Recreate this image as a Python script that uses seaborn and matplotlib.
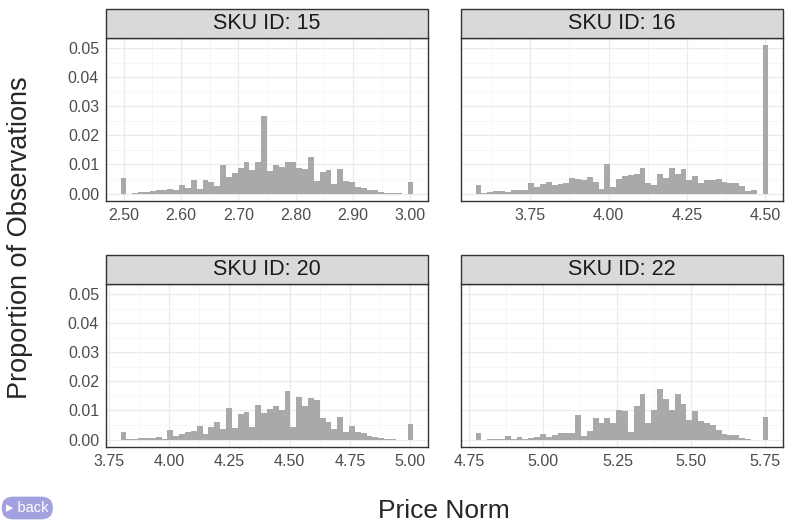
import numpy as np
import pandas as pd
import matplotlib.pyplot as plt
import seaborn as sns
from matplotlib.patches import Rectangle
from matplotlib.ticker import MultipleLocator

# Data (50 bins per SKU, proportion of observations)
sku_ids = [15, 16, 20, 22]
price_min = [2.500, 3.585, 3.812, 4.781]
price_max = [3.000, 4.500, 5.000, 5.750]
x_ticks = [
    [2.50, 2.60, 2.70, 2.80, 2.90, 3.00],
    [3.75, 4.00, 4.25, 4.50],
    [3.75, 4.00, 4.25, 4.50, 4.75, 5.00],
    [4.75, 5.00, 5.25, 5.50, 5.75],
]
y_ticks = [0.00, 0.01, 0.02, 0.03, 0.04, 0.05]

prop_15 = [0.0052, 0.0000, 0.0002, 0.0004, 0.0006, 0.0008, 0.0012, 0.0014, 0.0017, 0.0011,
           0.0028, 0.0020, 0.0047, 0.0015, 0.0045, 0.0041, 0.0025, 0.0098, 0.0057, 0.0072,
           0.0089, 0.0108, 0.0082, 0.0110, 0.0265, 0.0077, 0.0097, 0.0093, 0.0109, 0.0108,
           0.0089, 0.0083, 0.0126, 0.0042, 0.0073, 0.0082, 0.0033, 0.0085, 0.0042, 0.0040,
           0.0024, 0.0018, 0.0011, 0.0011, 0.0006, 0.0003, 0.0002, 0.0001, 0.0000, 0.0040]
prop_16 = [0.0028, 0.0003, 0.0006, 0.0008, 0.0010, 0.0005, 0.0013, 0.0013, 0.0013, 0.0037,
           0.0021, 0.0032, 0.0040, 0.0030, 0.0034, 0.0037, 0.0053, 0.0051, 0.0046, 0.0056,
           0.0039, 0.0016, 0.0103, 0.0022, 0.0050, 0.0062, 0.0064, 0.0067, 0.0089, 0.0038,
           0.0031, 0.0069, 0.0053, 0.0087, 0.0068, 0.0085, 0.0048, 0.0060, 0.0036, 0.0046,
           0.0045, 0.0049, 0.0039, 0.0036, 0.0036, 0.0026, 0.0009, 0.0014, 0.0000, 0.0509]
prop_20 = [0.0026, 0.0003, 0.0003, 0.0007, 0.0007, 0.0007, 0.0008, 0.0002, 0.0032, 0.0011,
           0.0019, 0.0025, 0.0028, 0.0047, 0.0020, 0.0044, 0.0060, 0.0036, 0.0108, 0.0040,
           0.0088, 0.0095, 0.0043, 0.0118, 0.0092, 0.0106, 0.0116, 0.0100, 0.0167, 0.0042,
           0.0148, 0.0116, 0.0143, 0.0136, 0.0075, 0.0061, 0.0035, 0.0076, 0.0026, 0.0045,
           0.0025, 0.0023, 0.0011, 0.0010, 0.0006, 0.0002, 0.0001, 0.0000, 0.0000, 0.0055]
prop_22 = [0.0024, 0.0000, 0.0003, 0.0001, 0.0002, 0.0011, 0.0001, 0.0009, 0.0002, 0.0005,
           0.0010, 0.0018, 0.0009, 0.0015, 0.0024, 0.0024, 0.0024, 0.0086, 0.0013, 0.0028,
           0.0075, 0.0058, 0.0075, 0.0056, 0.0102, 0.0099, 0.0027, 0.0117, 0.0158, 0.0058,
           0.0103, 0.0175, 0.0141, 0.0100, 0.0156, 0.0123, 0.0067, 0.0097, 0.0064, 0.0057,
           0.0049, 0.0034, 0.0020, 0.0016, 0.0015, 0.0005, 0.0001, 0.0000, 0.0000, 0.0077]
props = [prop_15, prop_16, prop_20, prop_22]
N_BINS = 50

sns.set_style("white")
plt.rcParams['font.family'] = ['Liberation Sans', 'DejaVu Sans']

fig = plt.figure(figsize=(7.85, 5.23), dpi=100)

# panel positions in pixels (left, top, width, height)
W, H = 785, 523
panels = [(106, 38, 322, 163), (461, 38, 322, 163),
          (106, 284, 322, 163), (461, 284, 322, 163)]
strip_px = 29

ymax_all = max(max(p) for p in props)
ylim = (-0.05 * ymax_all, 1.05 * ymax_all)

for i, sku in enumerate(sku_ids):
    l, t, w, h = panels[i]
    ax = fig.add_axes([l / W, 1 - (t + h) / H, w / W, h / H])

    lo, hi = price_min[i], price_max[i]
    bw = (hi - lo) / (N_BINS - 1)
    df = pd.DataFrame({'price': np.linspace(lo, hi, N_BINS), 'prop': props[i]})
    sns.histplot(data=df, x='price', weights='prop', bins=N_BINS,
                 binrange=(lo - bw / 2, hi + bw / 2), stat='count',
                 color='#A9A9A9', alpha=1, linewidth=0, ax=ax, zorder=2)

    e_lo, e_hi = lo - bw / 2, hi + bw / 2
    pad = 0.05 * (e_hi - e_lo)
    ax.set_xlim(e_lo - pad, e_hi + pad)
    ax.set_ylim(*ylim)

    ticks = x_ticks[i]
    step = ticks[1] - ticks[0]
    ax.set_xticks(ticks)
    ax.set_xticklabels([f"{v:.2f}" for v in ticks])
    ax.xaxis.set_minor_locator(MultipleLocator(step / 2))
    ax.set_yticks(y_ticks)
    ax.yaxis.set_minor_locator(MultipleLocator(0.005))
    if i % 2 == 0:
        ax.set_yticklabels([f"{v:.2f}" for v in y_ticks])
    else:
        ax.set_yticklabels([])
        ax.tick_params(axis='y', which='both', length=0)

    ax.grid(which='major', color='#EBEBEB', lw=0.9, zorder=0)
    ax.grid(which='minor', color='#F3F3F3', lw=0.5, zorder=0)
    ax.set_axisbelow(True)
    ax.tick_params(axis='both', which='major', labelsize=11.5, colors='#4D4D4D',
                   length=3, width=0.8, pad=2)
    ax.tick_params(axis='both', which='major', color='#333333')
    ax.tick_params(axis='both', which='minor', length=0)
    if i % 2 == 1:
        ax.tick_params(axis='y', which='major', length=0)
    for s in ax.spines.values():
        s.set_color('#333333')
        s.set_linewidth(1.0)
    ax.set_xlabel('')
    ax.set_ylabel('')

    # facet strip
    sh = strip_px / h
    ax.add_patch(Rectangle((0, 1), 1, sh, transform=ax.transAxes,
                           facecolor='#D9D9D9', edgecolor='#333333', lw=1.0,
                           clip_on=False, zorder=5))
    ax.text(0.5, 1 + sh / 2, f"SKU ID: {sku}", transform=ax.transAxes,
            ha='center', va='center', fontsize=15.5, color='#1A1A1A', zorder=6)

fig.text(444 / W, 1 - 511 / H, "Price Norm", ha='center', va='center', fontsize=19)
fig.text(20 / W, 1 - 238 / H, "Proportion of Observations", ha='center', va='center',
         rotation=90, fontsize=19.5)

# slide navigation button
fig.text(6 / W, 1 - 508 / H, "\u25b8 back", ha='left', va='center', fontsize=10.5,
         color='white',
         bbox=dict(boxstyle='round,pad=0.3,rounding_size=0.8', fc='#A3A1DF', ec='none'))

fig.savefig('out.png', dpi=100)
